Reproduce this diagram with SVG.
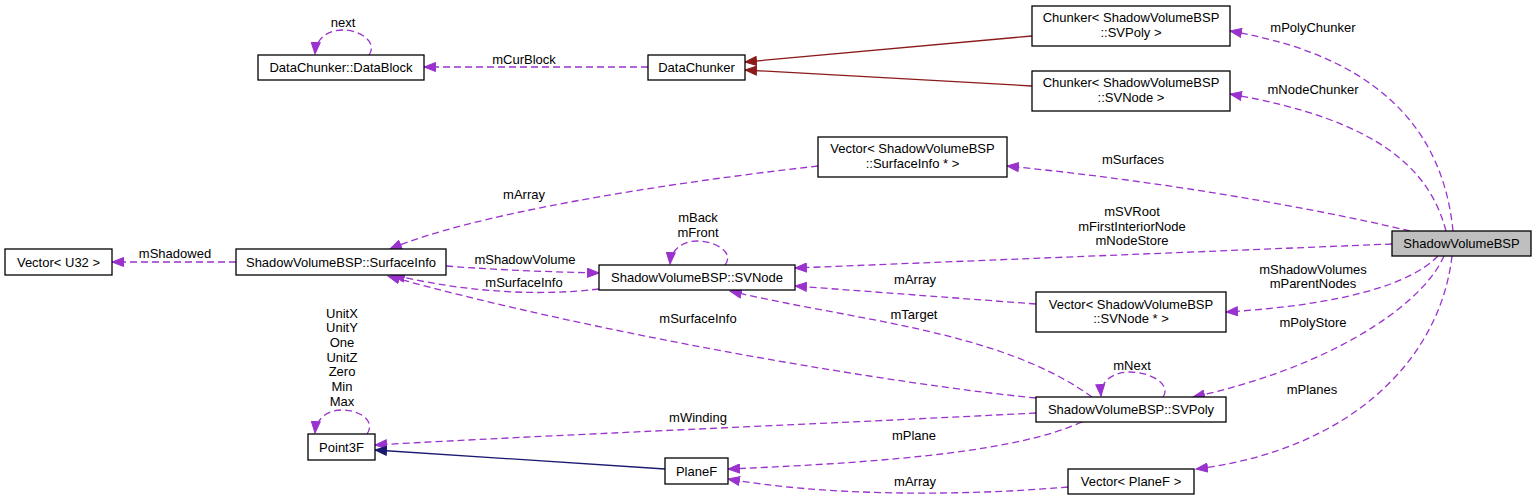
<svg xmlns="http://www.w3.org/2000/svg" width="1536" height="501" viewBox="0 0 1536 501">
<style>
rect.n{fill:#ffffff;stroke:#000000;stroke-width:1.3}
rect.h{fill:#bfbfbf;stroke:#000000;stroke-width:1.3}
text{font-family:"Liberation Sans",Arial,sans-serif;font-size:13px;fill:#000000;text-anchor:middle}
.u{fill:none;stroke:#9a32cd;stroke-width:1.3;stroke-dasharray:7,4}
.r{fill:none;stroke:#8b1a1a;stroke-width:1.3}
.b{fill:none;stroke:#191970;stroke-width:1.3}
</style>
<defs>
<marker id="ap" markerUnits="userSpaceOnUse" markerWidth="13" markerHeight="10" refX="12" refY="5" orient="auto"><path d="M0.5,0.5 L12,5 L0.5,9.5 z" fill="#9a32cd" stroke="#9a32cd"/></marker>
<marker id="ar" markerUnits="userSpaceOnUse" markerWidth="13" markerHeight="10" refX="12" refY="5" orient="auto"><path d="M0.5,0.5 L12,5 L0.5,9.5 z" fill="#8b1a1a" stroke="#8b1a1a"/></marker>
<marker id="ab" markerUnits="userSpaceOnUse" markerWidth="13" markerHeight="10" refX="12" refY="5" orient="auto"><path d="M0.5,0.5 L12,5 L0.5,9.5 z" fill="#191970" stroke="#191970"/></marker>
</defs>
<g id="connectors">
<path class="u" marker-end="url(#ap)" d="M648,67 L424,67"/>
<path class="u" marker-end="url(#ap)" d="M369,55 C378,42 360,30 343,30 C328,30 316,38 315,54"/>
<path class="r" marker-end="url(#ar)" d="M1032,36 L745,62"/>
<path class="r" marker-end="url(#ar)" d="M1032,86 L745,70"/>
<path class="u" marker-end="url(#ap)" d="M1453,231 C1445,150 1400,60 1230,31"/>
<path class="u" marker-end="url(#ap)" d="M1446,231 C1430,170 1380,120 1230,94"/>
<path class="u" marker-end="url(#ap)" d="M1410,231 C1300,205 1150,180 1007,166"/>
<path class="u" marker-end="url(#ap)" d="M1392,244 L795,268"/>
<path class="u" marker-end="url(#ap)" d="M1438,256 C1410,285 1340,305 1226,312"/>
<path class="u" marker-end="url(#ap)" d="M1444,256 C1420,310 1320,370 1193,397"/>
<path class="u" marker-end="url(#ap)" d="M1452,256 C1440,360 1350,450 1196,469"/>
<path class="u" marker-end="url(#ap)" d="M818,166 C650,185 470,215 390,249"/>
<path class="u" marker-end="url(#ap)" d="M236,262 L112,262"/>
<path class="u" marker-end="url(#ap)" d="M446,266 C500,270 550,272 599,273"/>
<path class="u" marker-end="url(#ap)" d="M599,289 C540,296 470,293 393,275"/>
<path class="u" marker-end="url(#ap)" d="M725,265 C735,252 715,241 697,241 C682,241 671,250 670,264"/>
<path class="u" marker-end="url(#ap)" d="M1036,304 L795,286"/>
<path class="u" marker-end="url(#ap)" d="M1092,397 C1000,330 850,320 730,291"/>
<path class="u" marker-end="url(#ap)" d="M1036,398 C900,385 600,335 388,276"/>
<path class="u" marker-end="url(#ap)" d="M1036,413 C800,425 550,435 375,445"/>
<path class="u" marker-end="url(#ap)" d="M1082,422 C1020,450 900,462 728,469"/>
<path class="u" marker-end="url(#ap)" d="M1068,487 C950,497 820,495 728,479"/>
<path class="b" marker-end="url(#ab)" d="M665,469 L375,450"/>
<path class="u" marker-end="url(#ap)" d="M367,434 C376,421 360,410 342,410 C327,410 316,419 315,433"/>
<path class="u" marker-end="url(#ap)" d="M1163,397 C1172,384 1150,372 1130,372 C1112,372 1100,382 1101,396"/>
</g>
<g id="labels">
<text x="343" y="26.5">next</text>
<text x="524" y="63.5">mCurBlock</text>
<text x="1313" y="31.5">mPolyChunker</text>
<text x="1313" y="93.5">mNodeChunker</text>
<text x="1133" y="163.5">mSurfaces</text>
<text x="524" y="198.5">mArray</text>
<text x="698" y="221.5">mBack</text>
<text x="698" y="236.5">mFront</text>
<text x="1132" y="215.5">mSVRoot</text>
<text x="1132" y="230.5">mFirstInteriorNode</text>
<text x="1132" y="244.5">mNodeStore</text>
<text x="175" y="257.5">mShadowed</text>
<text x="525" y="263.5">mShadowVolume</text>
<text x="1313" y="273.5">mShadowVolumes</text>
<text x="1313" y="287.5">mParentNodes</text>
<text x="915" y="283.5">mArray</text>
<text x="524" y="286.5">mSurfaceInfo</text>
<text x="342" y="317.5">UnitX</text>
<text x="342" y="332.2">UnitY</text>
<text x="342" y="346.8">One</text>
<text x="342" y="361.5">UnitZ</text>
<text x="342" y="376.2">Zero</text>
<text x="342" y="390.8">Min</text>
<text x="342" y="405.5">Max</text>
<text x="914" y="318.5">mTarget</text>
<text x="698" y="322.5">mSurfaceInfo</text>
<text x="1313" y="326.5">mPolyStore</text>
<text x="1132" y="369.5">mNext</text>
<text x="1312" y="393.5">mPlanes</text>
<text x="698" y="421.5">mWinding</text>
<text x="914" y="439.5">mPlane</text>
<text x="915" y="485.5">mArray</text>
</g>
<g id="ShadowVolumeBSP"><rect class="h" x="1392" y="231" width="139" height="25"/><text x="1461.5" y="248">ShadowVolumeBSP</text></g>
<g id="DataBlock"><rect class="n" x="258" y="55" width="166" height="25"/><text x="341" y="72">DataChunker::DataBlock</text></g>
<g id="DataChunker"><rect class="n" x="648" y="55" width="97" height="25"/><text x="696.5" y="72">DataChunker</text></g>
<g id="ChunkerSVPoly"><rect class="n" x="1032" y="6" width="198" height="40"/><text x="1131" y="21.5">Chunker&lt; ShadowVolumeBSP</text><text x="1131" y="36.5">::SVPoly &gt;</text></g>
<g id="ChunkerSVNode"><rect class="n" x="1032" y="71" width="198" height="40"/><text x="1131" y="86.5">Chunker&lt; ShadowVolumeBSP</text><text x="1131" y="101.5">::SVNode &gt;</text></g>
<g id="VectorSurfaceInfo"><rect class="n" x="818" y="137" width="189" height="40"/><text x="912.5" y="152.5">Vector&lt; ShadowVolumeBSP</text><text x="912.5" y="167.5">::SurfaceInfo * &gt;</text></g>
<g id="VectorU32"><rect class="n" x="5" y="249" width="107" height="26"/><text x="58.5" y="266.5">Vector&lt; U32 &gt;</text></g>
<g id="SurfaceInfo"><rect class="n" x="236" y="249" width="210" height="26"/><text x="341" y="266.5">ShadowVolumeBSP::SurfaceInfo</text></g>
<g id="SVNode"><rect class="n" x="599" y="265" width="196" height="25"/><text x="697" y="282">ShadowVolumeBSP::SVNode</text></g>
<g id="VectorSVNode"><rect class="n" x="1036" y="292" width="190" height="40"/><text x="1131" y="308.5">Vector&lt; ShadowVolumeBSP</text><text x="1131" y="322.5">::SVNode * &gt;</text></g>
<g id="SVPoly"><rect class="n" x="1036" y="397" width="190" height="25"/><text x="1131" y="414">ShadowVolumeBSP::SVPoly</text></g>
<g id="Point3F"><rect class="n" x="308" y="434" width="67" height="26"/><text x="341.5" y="451.5">Point3F</text></g>
<g id="PlaneF"><rect class="n" x="665" y="458" width="63" height="26"/><text x="696.5" y="475.5">PlaneF</text></g>
<g id="VectorPlaneF"><rect class="n" x="1068" y="469" width="126" height="25"/><text x="1131" y="486">Vector&lt; PlaneF &gt;</text></g>
</svg>
